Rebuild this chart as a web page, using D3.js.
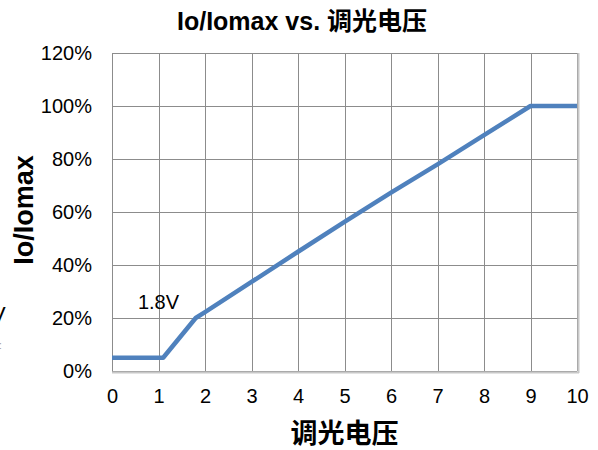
<!DOCTYPE html>
<html><head><meta charset="utf-8">
<script src="https://cdn.jsdelivr.net/npm/d3@7"></script>
<style>body{margin:0;background:#fff;} svg{display:block;}</style>
</head><body>
<svg id="c" width="598" height="450"></svg>
<script>
const voltage = [0, 1.1, 1.8, 2, 3, 4, 5, 6, 7, 8, 9, 10];
const ratio   = [0.05, 0.05, 0.20, 0.222, 0.336, 0.45, 0.563, 0.673, 0.78, 0.89, 1.0, 1.0];
const xTicks = [0,1,2,3,4,5,6,7,8,9,10];
const yTicks = [0,0.2,0.4,0.6,0.8,1.0,1.2];
const titleText = "Io/Iomax vs. 调光电压";
const xTitle = "调光电压";
const yTitle = "Io/Iomax";
const annotation = {x: 1.0, y: 0.26, text: "1.8V"};

const svg = d3.select("#c");
const L = 112, R = 577, T = 53, B = 371;
const x = d3.scaleLinear().domain([0,10]).range([L,R]);
const y = d3.scaleLinear().domain([0,1.2]).range([B,T]);
const font = "Arial, 'Liberation Sans', sans-serif";
const cjk = "Arial, 'Liberation Sans', 'Noto Sans CJK SC', sans-serif";

// grid
const g = svg.append("g");
g.selectAll(".vx").data(xTicks).join("line")
  .attr("x1", d=>Math.round(x(d))+0.5).attr("x2", d=>Math.round(x(d))+0.5)
  .attr("y1", T).attr("y2", B).attr("stroke", "#8c8c8c").attr("stroke-width",1);
g.selectAll(".hy").data(yTicks).join("line")
  .attr("x1", L).attr("x2", R)
  .attr("y1", d=>Math.round(y(d))+0.5).attr("y2", d=>Math.round(y(d))+0.5)
  .attr("stroke", "#8c8c8c").attr("stroke-width",1);
// right/bottom frame shadow
svg.append("line").attr("x1",R+1.5).attr("x2",R+1.5).attr("y1",T).attr("y2",B+2).attr("stroke","#c8c8c8").attr("stroke-width",2);
svg.append("line").attr("x1",L).attr("x2",R+2).attr("y1",B+1.5).attr("y2",B+1.5).attr("stroke","#c8c8c8").attr("stroke-width",2);

// axes labels via d3 axes
const xAxis = svg.append("g").attr("transform",`translate(0,${B})`)
  .call(d3.axisBottom(x).tickValues(xTicks).tickFormat(d3.format("d")).tickSize(0).tickPadding(18));
xAxis.select(".domain").remove();
xAxis.selectAll("text").attr("font-family",font).attr("font-size",20).attr("fill","#000");

const yAxis = svg.append("g").attr("transform",`translate(${L},0)`)
  .call(d3.axisLeft(y).tickValues(yTicks).tickFormat(d3.format(".0%")).tickSize(0).tickPadding(20));
yAxis.select(".domain").remove();
yAxis.selectAll("text").attr("font-family",font).attr("font-size",20).attr("fill","#000");

// line
const line = d3.line().x((d,i)=>x(voltage[i])).y(d=>y(d));
svg.append("path").datum(ratio).attr("d", line)
  .attr("fill","none").attr("stroke","#4f81bd").attr("stroke-width",4.5)
  .attr("stroke-linejoin","round").attr("stroke-linecap","butt");

// annotation
svg.append("text").attr("x", x(annotation.x)).attr("y", y(annotation.y)).attr("dy","0.35em")
  .attr("font-family",font).attr("font-size",20).attr("text-anchor","middle").text(annotation.text);

// titles
svg.append("text").attr("x",302).attr("y",30).attr("text-anchor","middle")
  .attr("font-family",cjk).attr("font-size",25).attr("font-weight","bold").text(titleText);
svg.append("text").attr("x",x(5)).attr("y",443).attr("text-anchor","middle")
  .attr("font-family",cjk).attr("font-size",27).attr("font-weight","bold").text(xTitle);
svg.append("text").attr("transform","translate(33,210) rotate(-90)").attr("text-anchor","middle")
  .attr("font-family",font).attr("font-size",27).attr("font-weight","bold").text(yTitle);

// cropped fragments at left edge
svg.append("text").attr("x",-9).attr("y",322).attr("font-family",font).attr("font-size",22).text("V");
svg.append("text").attr("x",-1).attr("y",349).attr("font-family",font).attr("font-size",10).attr("fill","#999").text(":");
</script>
</body></html>
